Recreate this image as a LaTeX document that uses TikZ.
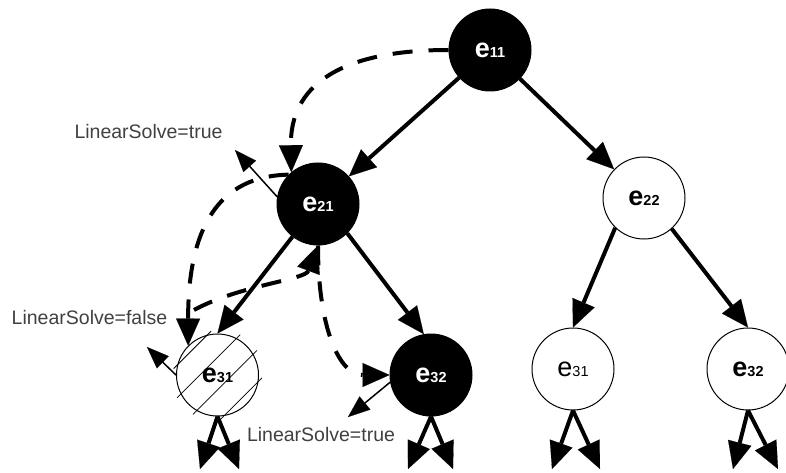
\documentclass[tikz,border=0pt]{standalone}
\usepackage{fontspec}
\setmainfont{Liberation Sans}
\usetikzlibrary{arrows.meta,calc}
\definecolor{labelgray}{RGB}{64,64,64}
\newcommand{\elab}[1]{e{\fontsize{14.5}{14.5}\selectfont #1}}

\begin{document}
\begin{tikzpicture}[x=1pt, y=-1pt,
    black node/.style={circle, draw, fill=black, text=white, minimum size=82pt, inner sep=0pt, line width=1pt, font=\bfseries\fontsize{27}{27}\selectfont},
    white node/.style={circle, draw, fill=white, minimum size=82pt, inner sep=0pt, line width=1pt, font=\bfseries\fontsize{27}{27}\selectfont},
    tree edge/.style={line width=4pt, -{Triangle[length=27pt,width=24pt,line width=0.1pt]}},
    back edge/.style={tree edge, dash pattern=on 20pt off 16pt},
    flag edge/.style={line width=1.5pt, -{Triangle[length=22pt,width=17pt,line width=0.1pt]}},
    flag label/.style={text=labelgray, font=\fontsize{19.5}{20}\selectfont, inner sep=0pt},
    hatch line/.style={line width=0.8pt}]
        \useasboundingbox (0,0) rectangle (786,473);

          % search tree
          \node[black node] (e11) at (490,50) {\elab{11}};
          \node[black node] (e21) at (318,204) {\elab{21}};
          \node[white node] (e22) at (644,198) {\elab{22}};
          \node[white node] (e31) at (217.5,375) {\elab{31}};
          \node[black node] (e32) at (431,375) {\elab{32}};
          \node[white node, font=\fontsize{27}{27}\selectfont] (e31r) at (573,369) {\elab{31}};
          \node[white node] (e32r) at (748,369) {\elab{32}};

          % hatching of the rejected node
          \foreach \d in {-35.5,-12.5,10.5,33.5}{
            \pgfmathsetmacro{\h}{sqrt(41.5*41.5-(\d)*(\d))+5}
            \draw[hatch line] ($(e31)+({((\d)+\h)/sqrt(2)},{((\d)-\h)/sqrt(2)})$) -- ($(e31)+({((\d)-\h)/sqrt(2)},{((\d)+\h)/sqrt(2)})$);
          }

          % labels
          \node[flag label] (lsA) at (148.5,132) {LinearSolve=true};
          \node[flag label] (lsB) at (89.5,318) {LinearSolve=false};
          \node[flag label] (lsC) at (321,435) {LinearSolve=true};

          \coordinate (fA) at (235,150);
          \coordinate (fB) at (147,347);
          \coordinate (fC) at (348,417);
          \coordinate (r31) at (194,310);

          \coordinate (d31a) at (200,469);
          \coordinate (d31b) at (239,469);
          \coordinate (d32a) at (408,469);
          \coordinate (d32b) at (453,469);
          \coordinate (d31ra) at (552,469);
          \coordinate (d31rb) at (600,469);
          \coordinate (d32ra) at (733,469);
          \coordinate (d32rb) at (778,469);

          \path[tree edge]
            (e11) edge (e21)
                  edge (e22)
            (e21.232) edge (e31.north)
            (e21.-45) edge (e32.100)
            (e22.226) edge (e31r.north)
            (e22.-48) edge (e32r.north)
            (e31.south) edge (d31a)
                        edge (d31b)
            (e32.south) edge (d32a)
                        edge (d32b)
            (e31r.south) edge (d31ra)
                         edge (d31rb)
            (e32r.south) edge (d32ra)
                         edge (d32rb);

          % backtracking
          \draw[back edge] (e11.west) .. controls (338,50) and (290,87) .. (e21.130);
          \draw[back edge] (e21.135) .. controls (219,176) and (188,227) .. (e31.135);
          \draw[back edge] (r31) .. controls (240,285) and (305,280) .. (e21.south);
          \draw[back edge] (e21.south) .. controls (318,330) and (340,375) .. (e32.west);

          \draw[flag edge] (e21.170) -- (fA);
          \draw[flag edge] (e31.west) -- (fB);
          \draw[flag edge] (e32.190) -- (fC);

\end{tikzpicture}
\end{document}
